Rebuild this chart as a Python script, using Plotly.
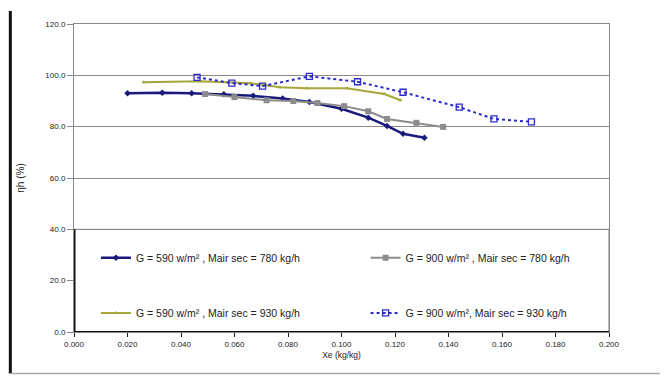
import plotly.graph_objects as go

# ---- data ----
s1_name = "G = 590 w/m² , Mair sec = 780 kg/h"
s1_x = [0.020, 0.033, 0.044, 0.056, 0.067, 0.078, 0.088, 0.100, 0.110, 0.117, 0.123, 0.131]
s1_y = [93.0, 93.2, 93.0, 92.6, 92.0, 91.0, 89.6, 87.0, 83.5, 80.3, 77.2, 75.7]

s2_name = "G = 900 w/m² , Mair sec = 780 kg/h"
s2_x = [0.049, 0.060, 0.072, 0.082, 0.091, 0.101, 0.110, 0.117, 0.128, 0.138]
s2_y = [92.7, 91.5, 90.3, 90.0, 89.2, 88.0, 86.0, 83.0, 81.5, 79.9]

s3_name = "G = 590 w/m² , Mair sec = 930 kg/h"
s3_x = [0.026, 0.047, 0.066, 0.077, 0.087, 0.102, 0.116, 0.122]
s3_y = [97.3, 97.7, 96.9, 95.4, 95.0, 95.0, 92.7, 90.3]

s4_name = "G = 900 w/m², Mair sec = 930 kg/h"
s4_x = [0.046, 0.059, 0.0705, 0.088, 0.106, 0.123, 0.144, 0.157, 0.171]
s4_y = [99.2, 97.0, 95.8, 99.6, 97.5, 93.4, 87.6, 83.0, 81.9]

x_ticks = [0.0, 0.02, 0.04, 0.06, 0.08, 0.10, 0.12, 0.14, 0.16, 0.18, 0.20]
y_ticks = [0, 20, 40, 60, 80, 100, 120]

FONT = "Liberation Sans, Arial, sans-serif"

fig = go.Figure()
fig.add_trace(go.Scatter(x=s1_x, y=s1_y, name=s1_name, mode="lines+markers",
                         line=dict(color="#1a1a7e", width=2.5),
                         marker=dict(symbol="diamond", size=5, color="#1a1a7e"),
                         legend="legend"))
fig.add_trace(go.Scatter(x=s2_x, y=s2_y, name=s2_name, mode="lines+markers",
                         line=dict(color="#8c8c8c", width=2),
                         marker=dict(symbol="square", size=6, color="#8c8c8c"),
                         legend="legend2"))
fig.add_trace(go.Scatter(x=s3_x, y=s3_y, name=s3_name, mode="lines+markers",
                         line=dict(color="#a6a63a", width=2),
                         marker=dict(symbol="triangle-up", size=4, color="#a6a63a"),
                         legend="legend3"))
fig.add_trace(go.Scatter(x=s4_x, y=s4_y, name=s4_name, mode="lines+markers",
                         line=dict(color="#2b2bcc", width=2, dash="dot"),
                         marker=dict(symbol="square-open", size=6, color="#2b2bcc",
                                     line=dict(width=1.3)),
                         legend="legend4"))

def leg(x, y):
    return dict(x=x, y=y, xanchor="left", yanchor="middle",
                font=dict(family=FONT, size=10.5, color="#222"),
                bgcolor="rgba(0,0,0,0)", itemwidth=30)

fig.update_layout(
    width=660, height=370,
    margin=dict(l=65, r=59, t=13, b=46),
    paper_bgcolor="white", plot_bgcolor="white",
    font=dict(family=FONT, size=8, color="#222"),
    showlegend=True,
    legend=leg(0.041, 0.241),
    legend2=leg(0.545, 0.241),
    legend3=leg(0.041, 0.062),
    legend4=leg(0.545, 0.062),
    xaxis=dict(range=[0, 0.2], tickvals=x_ticks, tickformat=".3f",
               showgrid=False, zeroline=False,
               showline=True, linecolor="#888", mirror=True, linewidth=1,
               ticks="outside", ticklen=4, tickcolor="#222",
               title=dict(text="Xe (kg/kg)", font=dict(size=8.5), standoff=4)),
    yaxis=dict(range=[0, 120], tickvals=y_ticks, tickformat=".1f",
               showgrid=True, gridcolor="#8a8a8a", gridwidth=1, zeroline=False,
               showline=True, linecolor="#888", mirror=True, linewidth=1,
               ticks="outside", ticklen=6, tickcolor="#888",
               title=dict(text="ηh (%)", font=dict(size=10), standoff=18)),
)

# legend box inside plot (covers lower grid area)
fig.add_shape(type="rect", xref="x", yref="y", x0=0, x1=0.2, y0=0, y1=40,
              fillcolor="white", line=dict(color="#777", width=1), layer="above")
fig.add_shape(type="line", xref="x", yref="y", x0=0, x1=0, y0=0, y1=40,
              line=dict(color="#111", width=3), layer="above")
fig.add_shape(type="line", xref="x", yref="y", x0=0, x1=0.2, y0=0, y1=0,
              line=dict(color="#111", width=2), layer="above")

# image frame edges
fig.add_shape(type="line", xref="paper", yref="paper",
              x0=-0.119, x1=-0.119, y0=-0.135, y1=1.042,
              line=dict(color="#111", width=3))
fig.add_shape(type="line", xref="paper", yref="paper",
              x0=-0.119, x1=1.11, y0=-0.135, y1=-0.135,
              line=dict(color="#aaa", width=1.5))

fig.write_html("out.html")
